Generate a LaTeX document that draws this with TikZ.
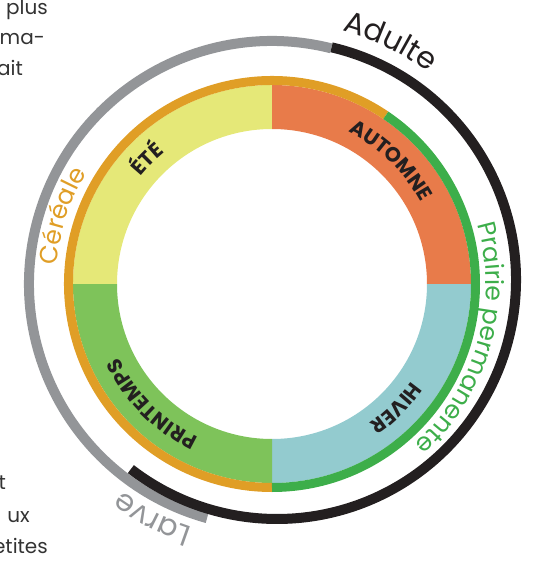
\documentclass[tikz,border=0pt]{standalone}
\usepackage{fontspec}
\setmainfont{Poppins}
\usepackage{xcolor}
\usetikzlibrary{decorations.text}

\definecolor{ete}{HTML}{E5E878}
\definecolor{automne}{HTML}{E87B4A}
\definecolor{hiver}{HTML}{93CBCF}
\definecolor{printemps}{HTML}{7EC35A}
\definecolor{cereale}{HTML}{E09E26}
\definecolor{prairie}{HTML}{3DAE4A}
\definecolor{larve}{HTML}{939598}
\definecolor{adulte}{HTML}{231F20}
\definecolor{texte}{HTML}{333333}

\newcommand\ringfont{\fontsize{30}{30}\selectfont}
\newcommand\cultfont{\fontsize{25}{25}\selectfont}
\newcommand\seasonfont{\bfseries\fontsize{20.5}{20.5}\selectfont}

\tikzset{
  saison/.style={decorate,decoration={text along path,text align=center,
    text={|\seasonfont\color{adulte}|#1}}},
  culture/.style 2 args={decorate,decoration={text along path,text align=center,
    text={|\cultfont\color{#1}|#2}}},
  stade/.style 2 args={decorate,decoration={text along path,text align=center,
    text={|\ringfont\color{#1}|#2}}},
  bord/.style={anchor=base east,inner sep=0pt,text=texte,font=\fontsize{20}{20}\selectfont}
}

\begin{document}
\begin{tikzpicture}[line cap=butt]
  \useasboundingbox (-272pt,-278pt) rectangle (272pt,284pt);

  % saisons
  \foreach \a/\c in {90/ete,0/automne,-90/hiver,180/printemps}
    \fill[\c] (\a:199pt) arc[start angle=\a,end angle=\a+90,radius=199pt]
      -- (\a+90:155pt) arc[start angle=\a+90,end angle=\a,radius=155pt] -- cycle;

  \draw[cereale,line width=9pt] (56:203.5pt) arc[start angle=56,end angle=270,radius=203.5pt];
  \draw[prairie,line width=9pt] (-90:203.5pt) arc[start angle=-90,end angle=56,radius=203.5pt];

  % cycle de vie
  \draw[larve,line width=10pt] (75.9:243pt) arc[start angle=75.9,end angle=254.5,radius=243pt];
  \draw[adulte,line width=10pt] ([shift={(76.8:239pt)}]5pt,4pt)
    arc[start angle=76.8,end angle=-127.7,radius=239pt];

  \path[saison={ÉTÉ}] (165:170pt) arc[start angle=165,end angle=105,radius=170pt];
  \path[saison={AUTOMNE}] (86:170pt) arc[start angle=86,end angle=6,radius=170pt];
  \path[saison={HIVER}] (-5:170pt) arc[start angle=-5,end angle=-85,radius=170pt];
  \path[saison={PRINTEMPS}] (-95:170pt) arc[start angle=-95,end angle=-175,radius=170pt];

  \path[culture={cereale}{Céréale}] (192:216pt) arc[start angle=192,end angle=132,radius=216pt];
  \path[culture={prairie}{Prairie permanente}] (34:214pt) arc[start angle=34,end angle=-66,radius=214pt];

  \path[stade={adulte}{Adulte}] (94:263pt) arc[start angle=94,end angle=34,radius=263pt];
  \path[stade={larve}{Larve}] (-87:256pt) arc[start angle=-87,end angle=-147,radius=256pt];

  \node[bord] (plus) at (-224pt,269pt) {plus};
  \node[bord] (rma) at (-227pt,239pt) {rma-};
  \node[bord] (ait) at (-249pt,208pt) {ait};
  \node[bord] (t) at (-266pt,-205pt) {t};
  \node[bord] (ux) at (-242pt,-238pt) {ux};
  \node[bord] (etites) at (-224pt,-269pt) {etites};
\end{tikzpicture}
\end{document}
